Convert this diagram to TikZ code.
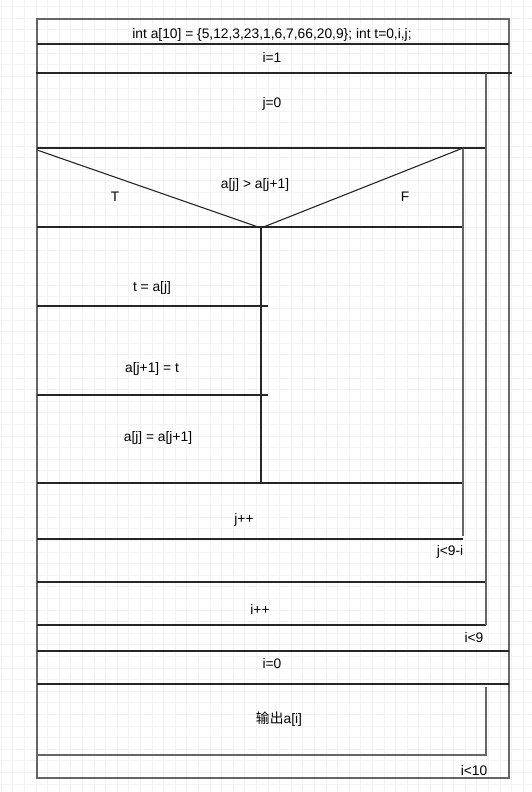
\documentclass[tikz,border=0pt]{standalone}
\usepackage{fontspec}
\setmainfont{Liberation Sans}
\newfontfamily\cjk{Noto Sans CJK SC}
\usetikzlibrary{calc}

\tikzset{
  lbl/.style={font=\fontsize{13.8}{16}\selectfont, inner sep=0pt},
  ln/.style={black!85, line width=1.1pt},
  gln/.style={black!60, line width=1.3pt}
}

\begin{document}
\begin{tikzpicture}[x=1pt,y=-1pt]
\useasboundingbox (0,0) rectangle (532,792);
\fill[white] (0,0) rectangle (532,792);
\draw[black!5, line width=.8pt, step=11.6pt, xshift=1.2pt, yshift=-6.7pt] (-1.2,800) grid (540,-6.7);

% outer frame
\draw[gln] (37,19) rectangle (509,778);

% horizontal rules
\foreach \y/\xr in {44/509, 148/486, 227/463, 306/268, 395/268, 483/463, 539/463, 582/486, 625/486, 651/509, 684/509}
  \draw[ln] (37,\y) -- (\xr,\y);
\draw[ln] (36,73) -- (512,73);

% loop bars
\draw[gln] (486,73) -- (486,625);
\draw[gln] (463,148) -- (463,536);
\draw[gln] (486,687) -- (486,755) -- (37,755);

% decision
\draw[ln] (37,150) -- (261,228) -- (463,148);
\draw[ln] (261,227) -- (261,483);

\node[lbl] (init) at (272,35) {int a[10] = \{5,12,3,23,1,6,7,66,20,9\}; int t=0,i,j;};
\node[lbl] (iinit) at (272,58) {i=1};
\node[lbl] (jinit) at (272,104) {j=0};
\node[lbl] (cond) at (255,185) {a[j] > a[j+1]};
\node[lbl] (yes) at (115,197) {T};
\node[lbl] (no) at (405,197) {F};
\node[lbl] (swapa) at (152,288) {t = a[j]};
\node[lbl] (swapb) at (152,369) {a[j+1] = t};
\node[lbl] (swapc) at (158,438) {a[j] = a[j+1]};
\node[lbl] (jinc) at (244,520) {j++};
\node[lbl] (jtest) at (450,552) {j<9-i};
\node[lbl] (iinc) at (260,609) {i++};
\node[lbl] (itest) at (474,638) {i<9};
\node[lbl] (kinit) at (272,664) {i=0};
\node[lbl] (out) at (279,719) {{\cjk 输出}a[i]};
\node[lbl] (ktest) at (474,771) {i<10};
\end{tikzpicture}
\end{document}
